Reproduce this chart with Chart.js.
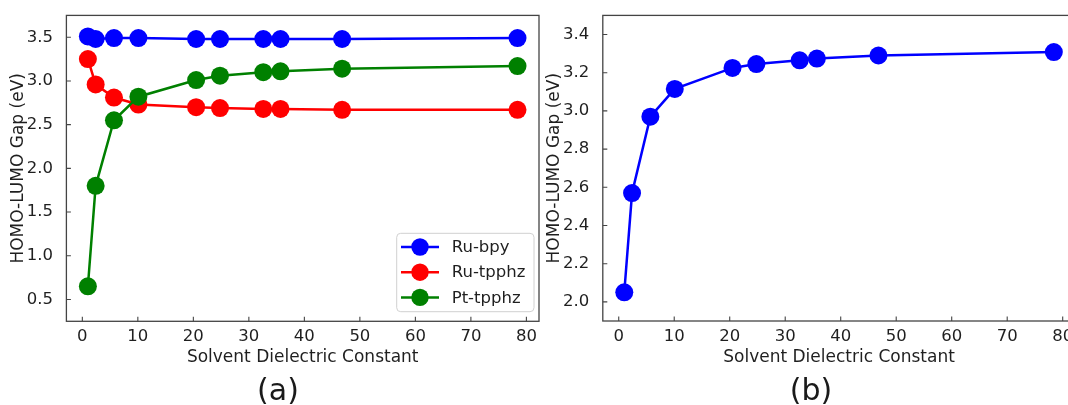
<!DOCTYPE html>
<html><head><meta charset="utf-8">
<script src="https://cdn.jsdelivr.net/npm/chart.js@4.4.0/dist/chart.umd.min.js"></script>
<style>
html,body{margin:0;padding:0;background:#fff;width:1068px;height:405px;overflow:hidden;position:relative;}
canvas{position:absolute;top:0;}
#ca{left:0}
#cb{left:540px}
.lbl{position:absolute;top:374.6px;font:30px/30px "DejaVu Sans";color:#1a1a1a;transform:translateX(-50%);white-space:nowrap}
</style></head><body>
<canvas id="ca" width="548" height="405"></canvas>
<canvas id="cb" width="545" height="405"></canvas>
<div class="lbl" style="left:278px">(a)</div>
<div class="lbl" style="left:811px">(b)</div>
<script>
// ---- data ----
const solventEps = [1.0, 2.4, 5.7, 10.1, 20.5, 24.8, 32.6, 35.7, 46.8, 78.4];
const ruBpy   = [3.51, 3.48, 3.49, 3.49, 3.48, 3.48, 3.48, 3.48, 3.48, 3.49];
const ruTpphz = [3.25, 2.96, 2.81, 2.73, 2.70, 2.69, 2.68, 2.68, 2.67, 2.67];
const ptTpphz = [0.65, 1.80, 2.55, 2.82, 3.01, 3.06, 3.10, 3.11, 3.14, 3.17];
const gapB    = [2.05, 2.57, 2.97, 3.115, 3.225, 3.245, 3.265, 3.274, 3.29, 3.308];
const seriesNames = ['Ru-bpy', 'Ru-tpphz', 'Pt-tpphz'];
const xTicks = [0, 10, 20, 30, 40, 50, 60, 70, 80];
const xTickLabels = ['0', '10', '20', '30', '40', '50', '60', '70', '80'];
const yTicksA = [0.5, 1.0, 1.5, 2.0, 2.5, 3.0, 3.5];
const yTickLabelsA = ['0.5', '1.0', '1.5', '2.0', '2.5', '3.0', '3.5'];
const yTicksB = [2.0, 2.2, 2.4, 2.6, 2.8, 3.0, 3.2, 3.4];
const yTickLabelsB = ['2.0', '2.2', '2.4', '2.6', '2.8', '3.0', '3.2', '3.4'];
const xTitle = 'Solvent Dielectric Constant';
const yTitle = 'HOMO-LUMO Gap (eV)';

Chart.defaults.font.family = '"DejaVu Sans", sans-serif';
Chart.defaults.color = '#1f1f1f';

const pts = (ys) => solventEps.map((x, i) => ({x: x, y: ys[i]}));

const frameTicks = {
  id: 'frameTicks',
  afterDatasetsDraw(chart) {
    const {ctx, chartArea: a, scales} = chart;
    ctx.save();
    ctx.strokeStyle = '#444';
    ctx.lineWidth = 1.3;
    ctx.strokeRect(a.left, a.top, a.right - a.left, a.bottom - a.top);
    ctx.lineWidth = 1.1;
    ctx.beginPath();
    scales.x.ticks.forEach(t => {
      const p = scales.x.getPixelForValue(t.value);
      ctx.moveTo(p, a.bottom); ctx.lineTo(p, a.bottom - 4.5);
    });
    scales.y.ticks.forEach(t => {
      const p = scales.y.getPixelForValue(t.value);
      ctx.moveTo(a.left, p); ctx.lineTo(a.left + 4.5, p);
    });
    ctx.stroke();
    ctx.restore();
  }
};

const insetLegend = {
  id: 'insetLegend',
  afterDraw(chart, args, opts) {
    if (!opts || !opts.show) return;
    const ctx = chart.ctx;
    const x0 = 396.7, y0 = 233.3, w = 137.3, h = 78.4, r = 4;
    ctx.save();
    ctx.beginPath();
    ctx.roundRect(x0, y0, w, h, r);
    ctx.fillStyle = 'rgba(255,255,255,0.8)';
    ctx.fill();
    ctx.strokeStyle = '#d0d0d0';
    ctx.lineWidth = 1;
    ctx.stroke();
    chart.data.datasets.forEach((ds, i) => {
      const cy = 247 + i * 25.2;
      ctx.strokeStyle = ds.borderColor;
      ctx.lineWidth = 2.5;
      ctx.beginPath(); ctx.moveTo(401, cy); ctx.lineTo(439, cy); ctx.stroke();
      ctx.fillStyle = ds.borderColor;
      ctx.beginPath(); ctx.arc(420, cy, 8.7, 0, Math.PI * 2); ctx.fill();
      ctx.fillStyle = '#1f1f1f';
      ctx.font = '16.5px "DejaVu Sans"';
      ctx.textBaseline = 'middle';
      ctx.textAlign = 'left';
      ctx.fillText(ds.label, 451.7, cy + 1);
    });
    ctx.restore();
  }
};

function ds(label, data, color, order) {
  return {label, data, borderColor: color, backgroundColor: color,
    pointBackgroundColor: color, pointBorderWidth: 0, pointRadius: 9, pointHoverRadius: 9,
    borderWidth: 2.5, tension: 0, fill: false, order};
}

function makeChart(id, datasets, yMin, yMax, yTicks, yLabels, g, legend) {
  return new Chart(document.getElementById(id), {
    type: 'line',
    data: {datasets},
    options: {
      responsive: false, animation: false, devicePixelRatio: 1,
      layout: {padding: {top: g.top, right: g.right, left: 0, bottom: 0}},
      plugins: {legend: {display: false}, tooltip: {enabled: false}, insetLegend: {show: legend}},
      scales: {
        x: {
          type: 'linear', min: -2.87, max: 82.27,
          grid: {display: false}, border: {display: false},
          afterBuildTicks: s => { s.ticks = xTicks.map(v => ({value: v})); },
          afterFit: s => { s.height = g.xh; },
          ticks: {padding: -2.5, font: {size: 16.5}, maxRotation: 0, autoSkip: false,
            callback: (v, i) => xTickLabels[i]},
          title: {display: true, text: xTitle, font: {size: 17}, padding: {top: 0, bottom: g.xtp}}
        },
        y: {
          type: 'linear', min: yMin, max: yMax,
          grid: {display: false}, border: {display: false},
          afterBuildTicks: s => { s.ticks = yTicks.map(v => ({value: v})); },
          afterFit: s => { s.width = g.yw; },
          ticks: {padding: 5.5, font: {size: 16.5}, autoSkip: false,
            callback: (v, i) => yLabels[i]},
          title: {display: true, text: yTitle, font: {size: 17}, padding: {top: g.ytp, bottom: 0}}
        }
      }
    },
    plugins: [frameTicks, insetLegend]
  });
}

makeChart('ca', [
  ds(seriesNames[0], pts(ruBpy), '#0000ff', 2),
  ds(seriesNames[1], pts(ruTpphz), '#ff0000', 1),
  ds(seriesNames[2], pts(ptTpphz), '#008000', 0)
], 0.25, 3.75, yTicksA, yTickLabelsA,
  {top: 13.3, right: 4.8, xh: 83.7, yw: 66.4, xtp: 37, ytp: 8}, true);

makeChart('cb', [
  ds(seriesNames[0], pts(gapB), '#0000ff', 0)
], 1.9, 3.5, yTicksB, yTickLabelsB,
  {top: 13.1, right: 9.7, xh: 84, yw: 62.8, xtp: 37, ytp: 4}, false);
</script>
</body></html>
